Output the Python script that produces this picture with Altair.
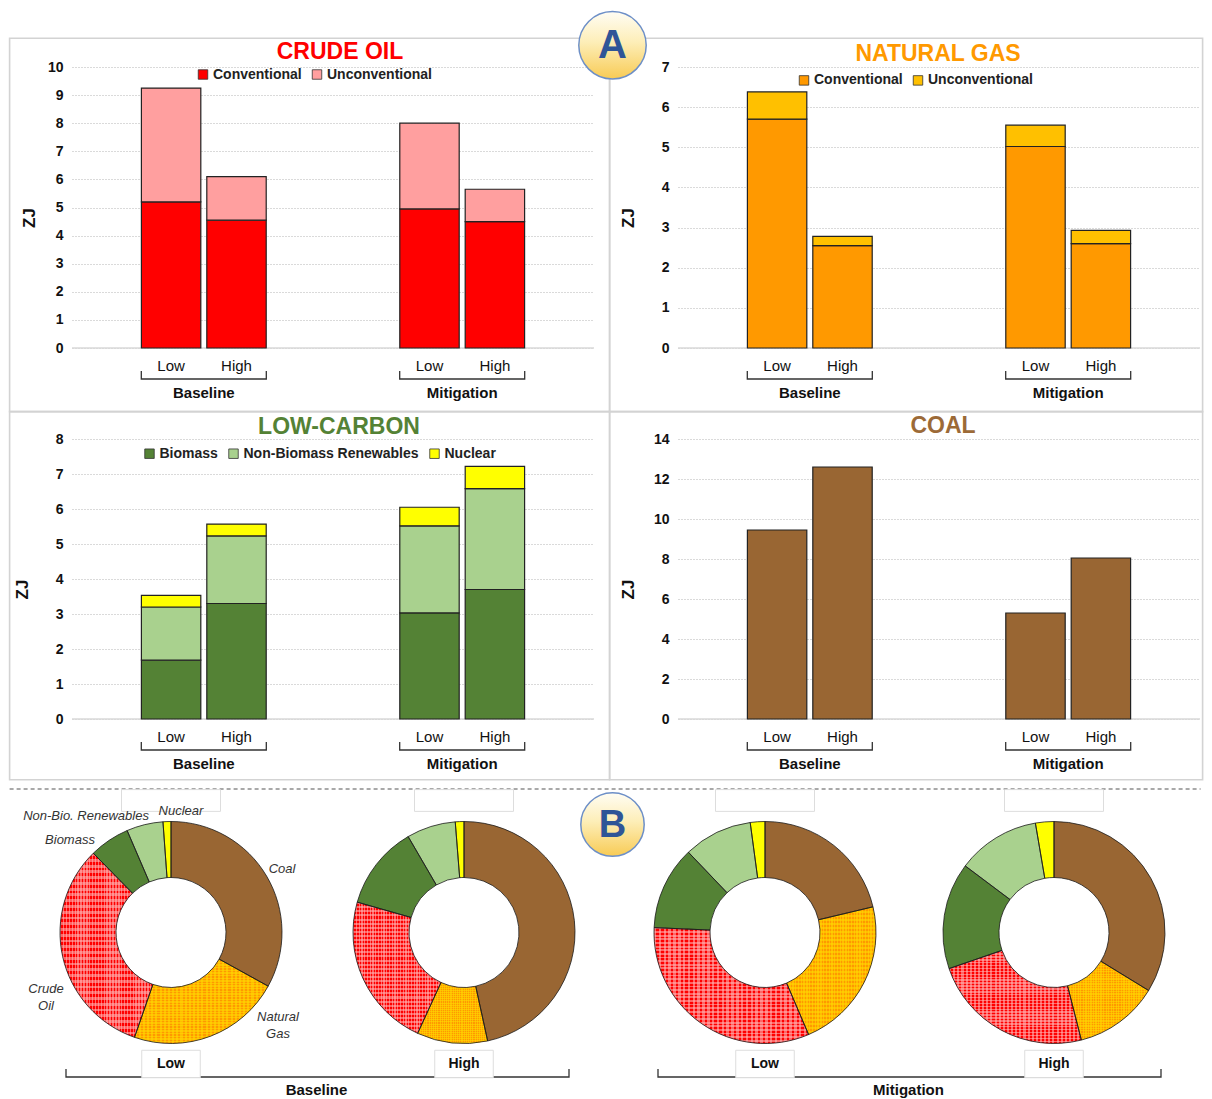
import altair as alt
import pandas as pd

# ---------------- data ----------------
scenarios = ["Baseline", "Mitigation"]
levels = ["Low", "High"]
cases = [("Baseline", "Low"), ("Baseline", "High"), ("Mitigation", "Low"), ("Mitigation", "High")]

oil_conventional = [5.20, 4.55, 4.95, 4.50]
oil_unconventional = [4.05, 1.55, 3.05, 1.15]
gas_conventional = [5.70, 2.55, 5.02, 2.60]
gas_unconventional = [0.68, 0.23, 0.53, 0.33]
biomass = [1.68, 3.30, 3.03, 3.70]
non_biomass_renewables = [1.52, 1.93, 2.49, 2.88]
nuclear = [0.33, 0.34, 0.53, 0.64]
coal = [9.45, 12.60, 5.30, 8.05]

oil_ticks = list(range(0, 11))
gas_ticks = list(range(0, 8))
lowc_ticks = list(range(0, 9))
coal_ticks = list(range(0, 15, 2))

donut_sources = ["Coal", "Natural Gas", "Crude Oil", "Biomass", "Non-Bio. Renewables", "Nuclear"]
donut_colors = ["#996633", "#ff9900", "#ff0000", "#548235", "#a9d18e", "#ffff00"]

# ---------------- layout constants ----------------
FONT = "Liberation Sans, Arial, sans-serif"
W = 522
H1 = 281
H2 = 280
HSP = 84
VSP = 91
ONE = pd.DataFrame({"k": [0]})
BR_SMALL = "M-1,-0.13L-1,0L1,0L1,-0.13"
BR_BIG = "M-1,-0.032L-1,0L1,0L1,-0.032"
BOX_LOW = "M-1,-0.47L1,-0.47L1,0.47L-1,0.47Z"
BOX_TOP = "M-1,-0.22L1,-0.22L1,0.22L-1,0.22Z"


def make_df(field, series):
    rows = []
    for k, (name, vals) in enumerate(series):
        for (s, l), v in zip(cases, vals):
            rows.append({"scenario": s, "level": l, field: name, "value": v, "ord": k})
    return pd.DataFrame(rows)


def bar_panel(field, series, colors, ticks, H, title, title_color, title_xy,
              legend_xy, border, zt_x):
    df = make_df(field, series)
    names = [n for n, _ in series]
    xenc = alt.X("scenario:N", scale=alt.Scale(domain=scenarios, paddingInner=0.517, paddingOuter=0.2686), axis=None)
    xoff = alt.XOffset("level:N", scale=alt.Scale(domain=levels, paddingInner=0.0917, paddingOuter=0))
    if legend_xy is not None:
        legend = alt.Legend(orient="none", legendX=legend_xy[0], legendY=legend_xy[1],
                            direction="horizontal", title=None, symbolType="square",
                            symbolSize=90, symbolStrokeColor="#333333", symbolStrokeWidth=0.8,
                            labelFont=FONT, labelFontSize=14, labelFontWeight="bold", labelLimit=400,
                            labelColor="#222222", columnPadding=8, labelOffset=3, padding=0)
    else:
        legend = None
    axis = alt.Axis(values=ticks, title="ZJ", grid=True, gridColor="#b5b5b5", gridDash=[1, 2],
                    gridWidth=1, domain=False, ticks=False, labelFont=FONT, labelFontSize=14,
                    labelFontWeight="bold", labelColor="#111111", labelPadding=9, labelOverlap=False,
                    titleFont=FONT, titleFontSize=17, titleFontWeight="bold", titleColor="#111111",
                    titleX=zt_x, titleY=H / 2 + 10, titleAngle=270, titleAlign="center",
                    titleBaseline="middle")
    yscale = alt.Scale(domain=[ticks[0], ticks[-1]], nice=False)
    bx0, bx1, by0, by1 = border
    border_l = alt.Chart(ONE).mark_rect(fillOpacity=0, stroke="#d3d3d3", strokeWidth=1.6).encode(
        x=alt.value(bx0), x2=alt.value(bx1), y=alt.value(by0), y2=alt.value(by1))
    zero = alt.Chart(ONE).mark_rule(color="#d9d9d9", strokeWidth=1.5).encode(
        y=alt.YDatum(0, scale=yscale, axis=axis))
    bars = alt.Chart(df).mark_bar(stroke="#222222", strokeWidth=1.2).encode(
        x=xenc, xOffset=xoff,
        y=alt.Y("value:Q", stack="zero", scale=yscale, axis=axis),
        color=alt.Color(f"{field}:N", scale=alt.Scale(domain=names, range=colors), legend=legend),
        order=alt.Order("ord:Q"))
    cats = pd.DataFrame(cases, columns=["scenario", "level"])
    lvl = alt.Chart(cats).mark_text(font=FONT, fontSize=15, color="#111111").encode(
        x=xenc, xOffset=xoff, y=alt.value(H + 18), text="level:N")
    sc = pd.DataFrame({"scenario": scenarios})
    brk = alt.Chart(sc).mark_point(shape=BR_SMALL, size=125 ** 2, filled=False, color="#333333",
                                   strokeWidth=1.3, opacity=1).encode(x=xenc, y=alt.value(H + 31))
    grp = alt.Chart(sc).mark_text(font=FONT, fontSize=15, fontWeight="bold", color="#111111").encode(
        x=xenc, y=alt.value(H + 45), text="scenario:N")
    ttl = alt.Chart(ONE).mark_text(font=FONT, fontSize=23, fontWeight="bold", color=title_color).encode(
        x=alt.value(title_xy[0]), y=alt.value(title_xy[1]), text=alt.value(title))
    return [border_l, zero, bars, lvl, brk, grp, ttl]


BADGE_GRAD = alt.LinearGradient(
    gradient="linear", x1=0, x2=0, y1=0, y2=1,
    stops=[alt.GradientStop(offset=0, color="#fffdf4"),
           alt.GradientStop(offset=0.45, color="#fdeeb8"),
           alt.GradientStop(offset=1, color="#f8cb55")])


def badge(letter, cx, cy, r):
    circ = alt.Chart(ONE).mark_point(shape="circle", size=(2 * r) ** 2, filled=True, fill=BADGE_GRAD,
                                     stroke="#6d8fc7", strokeWidth=1.5, opacity=1, fillOpacity=1).encode(
        x=alt.value(cx), y=alt.value(cy))
    txt = alt.Chart(ONE).mark_text(font=FONT, fontSize=round(r * 1.2), fontWeight="bold", color="#2f5597").encode(
        x=alt.value(cx), y=alt.value(cy + 1), text=alt.value(letter))
    return [circ, txt]


# ---------------- bar panels ----------------
tl = alt.layer(*bar_panel(
    "oil_type", [("Conventional", oil_conventional), ("Unconventional", oil_unconventional)],
    ["#ff0000", "#ff9f9f"], oil_ticks, H1, "CRUDE OIL", "#ff0000", (268, -15),
    (124, 0.5), (-62.4, 537.6, -28.7, 344.6), -43)).properties(width=W, height=H1)

tr = alt.layer(*(bar_panel(
    "gas_type", [("Conventional", gas_conventional), ("Unconventional", gas_unconventional)],
    ["#ff9900", "#ffc000"], gas_ticks, H1, "NATURAL GAS", "#ff9900", (260, -13),
    (119, 6.4), (-68.4, 524.6, -28.7, 344.6), -50) + badge("A", -65.5, -21.7, 33.7))
).properties(width=W, height=H1)

bl = alt.layer(*bar_panel(
    "lc_type", [("Biomass", biomass), ("Non-Biomass Renewables", non_biomass_renewables), ("Nuclear", nuclear)],
    ["#548235", "#a9d18e", "#ffff00"], lowc_ticks, H2, "LOW-CARBON", "#548235", (267, -12),
    (70.5, 7.7), (-62.4, 537.6, -27.4, 340.8), -50)).properties(width=W, height=H2)

br = alt.layer(*bar_panel(
    "coal_type", [("Coal", coal)], ["#996633"], coal_ticks, H2, "COAL", "#9c6a37", (265, -13),
    None, (-68.4, 524.6, -27.4, 340.8), -50)).properties(width=W, height=H2)

# ---------------- donuts ----------------
keys = [f"{s} {l}" for s, l in cases]
drows = []
for i, (s, l) in enumerate(cases):
    vals = [coal[i], gas_conventional[i] + gas_unconventional[i],
            oil_conventional[i] + oil_unconventional[i], biomass[i],
            non_biomass_renewables[i], nuclear[i]]
    for k, (src, v) in enumerate(zip(donut_sources, vals)):
        drows.append({"key": keys[i], "scenario": s, "level": l, "source": src, "value": v, "ord": k})
ddf = pd.DataFrame(drows)

DH = 288
CY = 122.5
R_OUT, R_IN = 111, 55


def stripes(color_on, n, vertical):
    off = "rgba(255,255,255,0)"
    stops = []
    for i in range(n):
        a, b, c = i / n, (i + 0.5) / n, (i + 1) / n
        stops += [alt.GradientStop(offset=a, color=color_on), alt.GradientStop(offset=b, color=color_on),
                  alt.GradientStop(offset=b, color=off), alt.GradientStop(offset=c, color=off)]
    if vertical:
        return alt.LinearGradient(gradient="linear", x1=0, x2=1, y1=0, y2=0, stops=stops)
    return alt.LinearGradient(gradient="linear", x1=0, x2=0, y1=0, y2=1, stops=stops)


def donut_view(scen, xrange, extra_front, extra_back):
    skeys = [f"{scen} {l}" for l in levels]
    dxenc = alt.X("key:N", scale=alt.Scale(type="point", domain=skeys, range=xrange, padding=0), axis=None)
    dbase = alt.Chart(ddf).transform_filter(
        alt.datum.scenario == scen
    ).transform_joinaggregate(
        total="sum(value)", groupby=["key"]
    ).transform_window(
        cum="sum(value)", groupby=["key"], sort=[alt.SortField("ord")]
    ).transform_calculate(
        t0="(datum.cum - datum.value) / datum.total", t1="datum.cum / datum.total")
    theta_enc = alt.Theta("t0:Q", scale=alt.Scale(domain=[0, 1], range=[0, 6.283185307179586]), stack=False)
    theta2_enc = alt.Theta2("t1:Q")
    arc_fill = dbase.mark_arc(radius=R_OUT, radius2=R_IN).encode(
        x=dxenc, y=alt.value(CY), theta=theta_enc, theta2=theta2_enc,
        color=alt.Color("source:N", scale=alt.Scale(domain=donut_sources, range=donut_colors), legend=None))
    pattern_layers = []
    for src, col in [("Crude Oil", "rgba(255,185,185,0.55)"), ("Natural Gas", "rgba(255,214,0,0.6)")]:
        for vert in (True, False):
            pattern_layers.append(
                dbase.transform_filter(alt.datum.source == src).mark_arc(
                    radius=R_OUT, radius2=R_IN, fill=stripes(col, 32, vert), strokeWidth=0).encode(
                    x=dxenc, y=alt.value(CY), theta=theta_enc, theta2=theta2_enc))
    arc_line = dbase.mark_arc(radius=R_OUT, radius2=R_IN, fillOpacity=0, stroke="#1a1a1a",
                              strokeWidth=0.8).encode(x=dxenc, y=alt.value(CY), theta=theta_enc,
                                                      theta2=theta2_enc)
    kdf = pd.DataFrame({"key": skeys, "level": levels})
    top_boxes = alt.Chart(kdf).mark_point(shape=BOX_TOP, size=99 ** 2, filled=False, color="#dddddd",
                                          strokeWidth=1, opacity=1).encode(x=dxenc, y=alt.value(-9.5))
    mid = (xrange[0] + xrange[1]) / 2
    bracket = alt.Chart(ONE).mark_point(shape=BR_BIG, size=503 ** 2, filled=False, color="#333333",
                                        strokeWidth=1.3, opacity=1).encode(x=alt.value(mid), y=alt.value(267))
    low_boxes = alt.Chart(kdf).mark_point(shape=BOX_LOW, size=58.5 ** 2, filled=True, fill="white",
                                          stroke="#dddddd", strokeWidth=1, opacity=1).encode(
        x=dxenc, y=alt.value(254))
    low_text = alt.Chart(kdf).mark_text(font=FONT, fontSize=14, fontWeight="bold", color="#111111").encode(
        x=dxenc, y=alt.value(254), text="level:N")
    group_text = alt.Chart(ONE).mark_text(font=FONT, fontSize=15, fontWeight="bold", color="#111111").encode(
        x=alt.value(mid - 1), y=alt.value(280), text=alt.value(scen))
    return alt.layer(
        *extra_back, top_boxes, bracket, low_boxes, low_text, group_text,
        arc_fill, *pattern_layers, arc_line, *extra_front
    ).properties(width=W, height=DH)


dash = alt.Chart(ONE).mark_rule(strokeDash=[4, 3], color="#555555", strokeWidth=1.2).encode(
    x=alt.value(-62.4), x2=alt.value(1128.6), y=alt.value(-21))

# slice annotations on the first donut (offsets from its centre)
annotations = [("Non-Bio. Renewables", -85, -117), ("Nuclear", 10, -122), ("Biomass", -101, -93),
               ("Coal", 111, -64), ("Crude", -125, 56), ("Oil", -125, 73),
               ("Natural", 107, 84), ("Gas", 107, 101)]
ann_layers = [
    alt.Chart(ONE).mark_text(font=FONT, fontSize=13, fontStyle="italic", color="#333333").encode(
        x=alt.value(99 + dx), y=alt.value(CY + dy), text=alt.value(t))
    for t, dx, dy in annotations]

d_left = donut_view("Baseline", [99, 392], ann_layers + badge("B", 540.5, 14.5, 31.7), [dash])
d_right = donut_view("Mitigation", [87, 376], [], [])

chart = alt.concat(
    tl, tr, bl, br, d_left, d_right, columns=2, spacing={"row": VSP, "column": HSP},
    bounds="flush", align="each"
).resolve_scale(color="independent").properties(
    padding=0, background="white").configure_view(strokeWidth=0)

chart.save("out.html", embed_options={"renderer": "svg", "actions": False})
